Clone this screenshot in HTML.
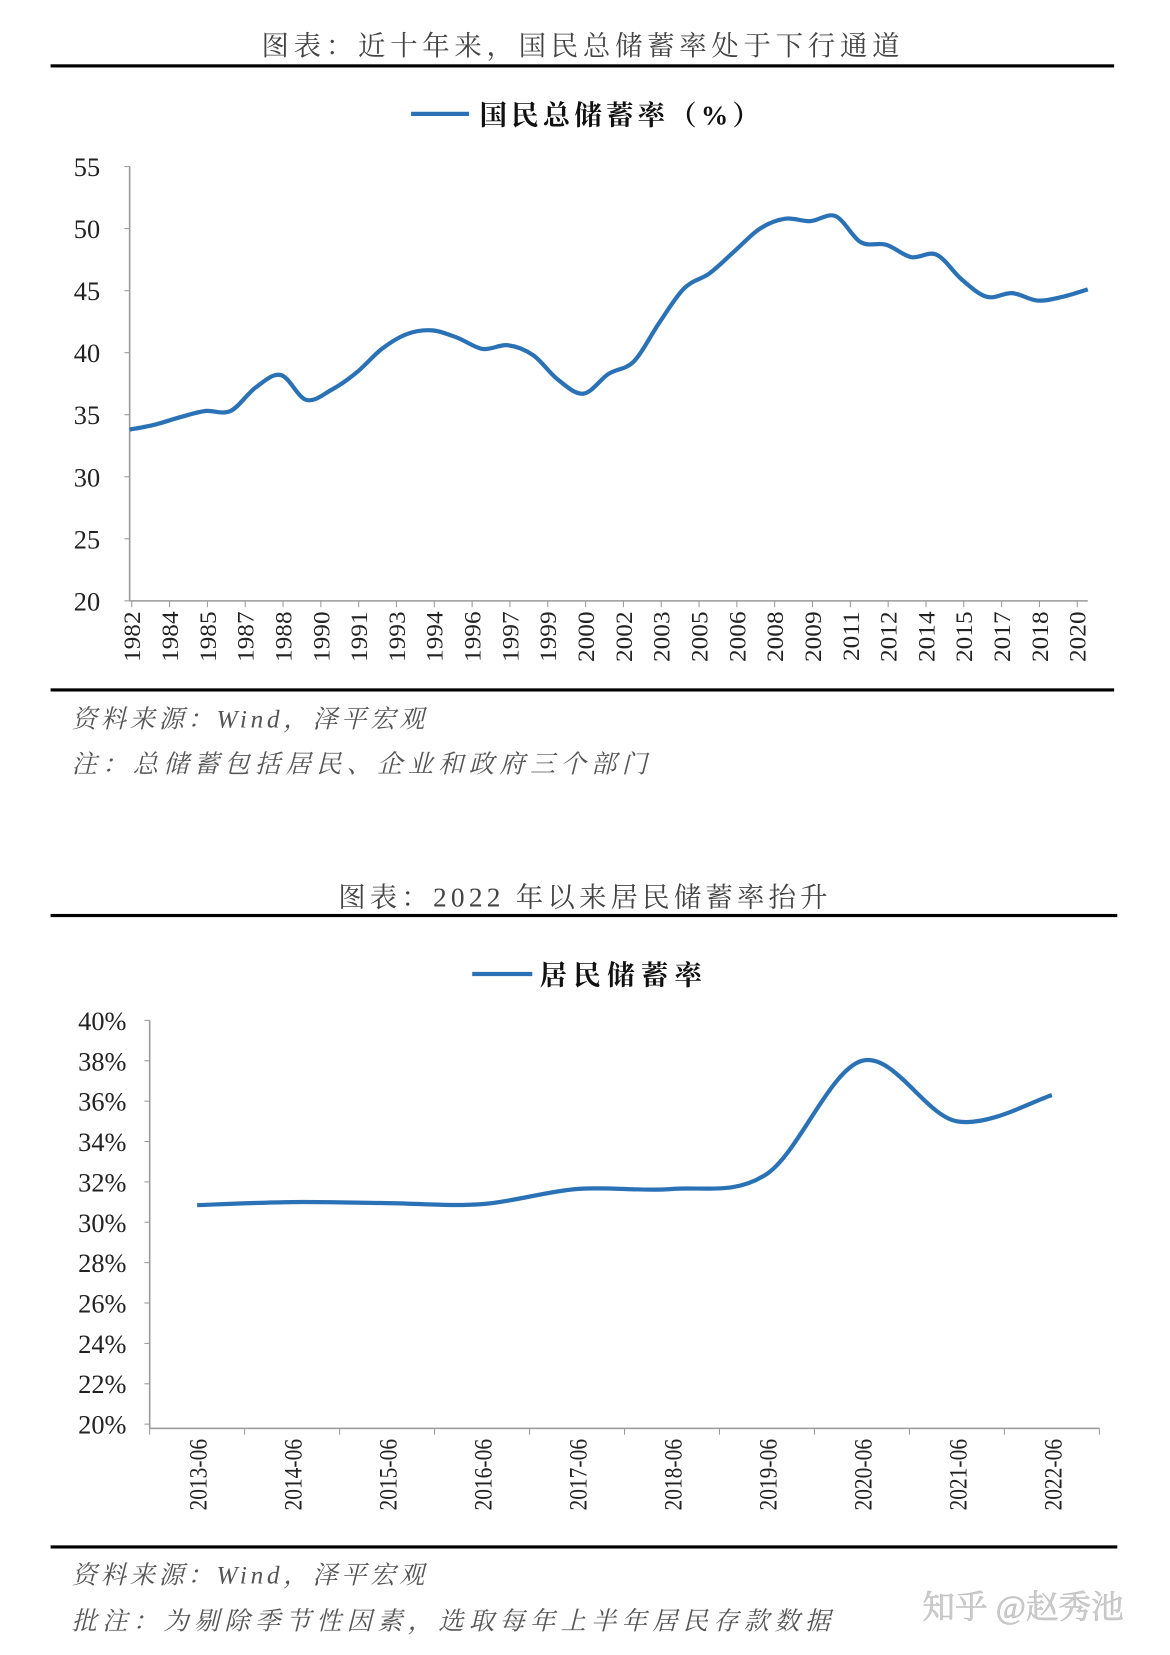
<!DOCTYPE html>
<html><head><meta charset="utf-8"><style>
html,body{margin:0;padding:0;background:#fff;}
svg{display:block;}
text{font-family:"Liberation Serif","Noto Serif CJK SC",serif;}
.cjk{font-family:"Liberation Serif","Noto Serif CJK SC",serif;}
</style></head><body>
<svg id="s" width="1170" height="1655" viewBox="0 0 1110 1570" preserveAspectRatio="none">
<text x="553" y="52" text-anchor="middle" font-size="26" letter-spacing="4.5" fill="#444" class="cjk">图表：近十年来，国民总储蓄率处于下行通道</text>
<rect x="48" y="61" width="1009" height="3" fill="#000"/>
<g><line x1="390" y1="108" x2="445" y2="108" stroke="#2a72b5" stroke-width="4"/><text x="455" y="118" font-size="26" letter-spacing="4" font-weight="bold" fill="#111" class="cjk">国民总储蓄率（%）</text></g>
<g id="c1"></g>
<rect x="48" y="653" width="1009" height="3" fill="#000"/>
<text x="68" y="690" font-size="24" letter-spacing="3.5" font-style="italic" fill="#555" class="cjk">资料来源：Wind，泽平宏观</text>
<text x="68" y="733" font-size="24" letter-spacing="5" font-style="italic" fill="#555" class="cjk">注：总储蓄包括居民、企业和政府三个部门</text>

<text x="555" y="860" text-anchor="middle" font-size="26" letter-spacing="4" fill="#444" class="cjk">图表：2022 年以来居民储蓄率抬升</text>
<rect x="48" y="867" width="1012" height="3" fill="#000"/>
<g><line x1="448" y1="924" x2="505" y2="924" stroke="#2a72b5" stroke-width="4"/><text x="512" y="934" font-size="26" letter-spacing="6" font-weight="bold" fill="#111" class="cjk">居民储蓄率</text></g>
<g id="c2"></g>
<rect x="48" y="1466" width="1012" height="3" fill="#000"/>
<text x="68" y="1502" font-size="24" letter-spacing="3.5" font-style="italic" fill="#555" class="cjk">资料来源：Wind，泽平宏观</text>
<text x="68" y="1546" font-size="24" letter-spacing="5" font-style="italic" fill="#555" class="cjk">批注：为剔除季节性因素，选取每年上半年居民存款数据</text>
<text x="875" y="1535" font-size="31" fill="#ccc" stroke="#bbb" stroke-width="0.5" font-family="'Noto Sans CJK SC',sans-serif">知乎 @赵秀池</text>
</svg>
<script>
const years1 = [1982,1983,1984,1985,1986,1987,1988,1989,1990,1991,1992,1993,1994,1995,1996,1997,1998,1999,2000,2001,2002,2003,2004,2005,2006,2007,2008,2009,2010,2011,2012,2013,2014,2015,2016,2017,2018,2019,2020];
const values1 = [33.8,34.2,34.8,35.3,35.3,37.2,38.2,36.2,37.0,38.4,40.3,41.5,41.8,41.2,40.3,40.6,39.8,37.8,36.7,38.3,39.3,42.4,45.2,46.4,48.2,50.0,50.8,50.6,51.0,48.9,48.7,47.7,47.9,45.9,44.5,44.8,44.2,44.5,45.1];
const xLabels1 = ["1982","1984","1985","1987","1988","1990","1991","1993","1994","1996","1997","1999","2000","2002","2003","2005","2006","2008","2009","2011","2012","2014","2015","2017","2018","2020"];
const yTicks1 = [20,25,30,35,40,45,50,55];
const cats2 = ["2013-06","2014-06","2015-06","2016-06","2017-06","2018-06","2019-06","2020-06","2021-06","2022-06"];
const values2 = [30.85,31.0,30.95,30.9,31.65,31.65,32.4,38.0,35.0,36.3];
const yTicks2 = [20,22,24,26,28,30,32,34,36,38,40];

const NS="http://www.w3.org/2000/svg";
function mk(p,t,a){const e=document.createElementNS(NS,t);for(const k in a)e.setAttribute(k,a[k]);p.appendChild(e);return e;}
function smooth(pts){let d=`M${pts[0][0]},${pts[0][1]}`;for(let i=0;i<pts.length-1;i++){const p0=pts[i-1]||pts[i],p1=pts[i],p2=pts[i+1],p3=pts[i+2]||p2;const c1=[p1[0]+(p2[0]-p0[0])/6,p1[1]+(p2[1]-p0[1])/6],c2=[p2[0]-(p3[0]-p1[0])/6,p2[1]-(p3[1]-p1[1])/6];d+=` C${c1[0]},${c1[1]} ${c2[0]},${c2[1]} ${p2[0]},${p2[1]}`;}return d;}

// chart 1
const g1=document.getElementById('c1');
const X0=123,X1=1032,Y0=570,Y1=158;
const y1=v=>Y0-(v-20)/(55-20)*(Y0-Y1);
const x1=yr=>X0+(yr-years1[0])/(years1[years1.length-1]-years1[0])*(X1-X0);
let e=mk(g1,'line',{x1:X0,y1:Y1,x2:X0,y2:Y0,stroke:'#999','stroke-width':1.5});


e=mk(g1,'line',{x1:X0,y1:Y0,x2:X1,y2:Y0,stroke:'#999','stroke-width':1.5});


yTicks1.forEach(v=>{mk(g1,'line',{x1:X0-5,y1:y1(v),x2:X0,y2:y1(v),stroke:'#999'});
 const t=mk(g1,'text',{x:95,y:y1(v)+9,'text-anchor':'end','font-size':25,fill:'#222'});t.textContent=v;
 
 });
const lx0=125,lx1=1022;
xLabels1.forEach((l,i)=>{const x=lx0+i*(lx1-lx0)/(xLabels1.length-1);
 mk(g1,'line',{x1:x,y1:Y0,x2:x,y2:Y0+6,stroke:'#999'});
 const t=mk(g1,'text',{x:0,y:0,'text-anchor':'end','font-size':24,fill:'#222',transform:`translate(${x+8},${Y0+10}) rotate(-90) scale(1,0.92)`});t.textContent=l;
 
 });
e=mk(g1,'path',{d:smooth(years1.map((yr,i)=>[x1(yr),y1(values1[i])])),fill:'none',stroke:'#2a72b5','stroke-width':4,'stroke-linejoin':'round'});



// chart 2
const g2=document.getElementById('c2');
const A0=142,A1=1043,B0=1351,B1=968;
const y2=v=>B0-(v-20)/(40-20)*(B0-B1);
const bw=(A1-A0)/cats2.length;
const x2=i=>A0+bw*(i+0.5);
e=mk(g2,'line',{x1:A0,y1:B1,x2:A0,y2:B0+4,stroke:'#999','stroke-width':1.5});


e=mk(g2,'line',{x1:A0,y1:B0+4,x2:A1,y2:B0+4,stroke:'#999','stroke-width':1.5});


yTicks2.forEach(v=>{mk(g2,'line',{x1:A0-5,y1:y2(v),x2:A0,y2:y2(v),stroke:'#999'});
 const t=mk(g2,'text',{x:120,y:y2(v)+9,'text-anchor':'end','font-size':25,fill:'#222'});t.textContent=v+'%';
 
 });
for(let i=0;i<=cats2.length;i++)mk(g2,'line',{x1:A0+i*bw,y1:B0+4,x2:A0+i*bw,y2:B0+10,stroke:'#999'});
cats2.forEach((c,i)=>{const t=mk(g2,'text',{x:0,y:0,'text-anchor':'end','font-size':24,fill:'#222',transform:`translate(${x2(i)+9},${B0+14}) rotate(-90) scale(0.85,1)`});t.textContent=c;
 
 });
e=mk(g2,'path',{d:smooth(values2.map((v,i)=>[x2(i),y2(v)])),fill:'none',stroke:'#2a72b5','stroke-width':4,'stroke-linejoin':'round'});


</script>
</body></html>
